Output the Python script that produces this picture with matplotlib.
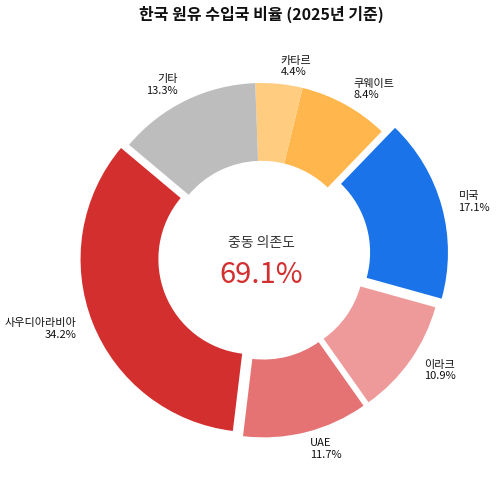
import numpy as np
import matplotlib
matplotlib.use('Agg')
import matplotlib.pyplot as plt

plt.rcParams['font.family'] = ['Noto Sans CJK KR', 'DejaVu Sans']

# 수입국별 비율 (%)
countries = ['사우디아라비아', 'UAE', '이라크', '미국', '쿠웨이트', '카타르', '기타']
shares = [34.2, 11.7, 10.9, 17.1, 8.4, 4.4, 13.3]
colors = ['#d32f2f', '#e57373', '#ef9a9a', '#1a73e8', '#ffb74d', '#ffcc80', '#bdbdbd']
explode = [0.05, 0.05, 0.05, 0.08, 0, 0, 0]
mideast_share = '69.1%'

labels = [f'{c}\n{s}%' for c, s in zip(countries, shares)]

fig = plt.figure(figsize=(5, 4.79), dpi=100)
ax = fig.add_axes([0, 0, 1, 1])

ax.pie(shares, labels=labels, colors=colors, explode=explode,
       startangle=140, labeldistance=1.1,
       wedgeprops=dict(width=0.45),
       textprops=dict(fontsize=8, color='#111111', fontweight='medium'))

# pixel mapping: center at (261.6, 256), radius 173 px
scale = 173.0
cx, cy = 261.6, 256.0
ax.set_xlim(-cx / scale, (500 - cx) / scale)
ax.set_ylim(-(479 - cy) / scale, cy / scale)

# center text
ax.text(0, 0.077, '중동 의존도', ha='center', va='center', fontsize=10,
        color='#333333', fontweight='medium')
ax.text(0, -0.11, mideast_share, ha='center', va='center', fontsize=21, color='#d32f2f')

fig.text(cx / 500, 1 - 14.5 / 479, '한국 원유 수입국 비율 (2025년 기준)',
         ha='center', va='center', fontsize=11.5, fontweight='bold', color='#111111')

fig.savefig('out.png', dpi=100)
